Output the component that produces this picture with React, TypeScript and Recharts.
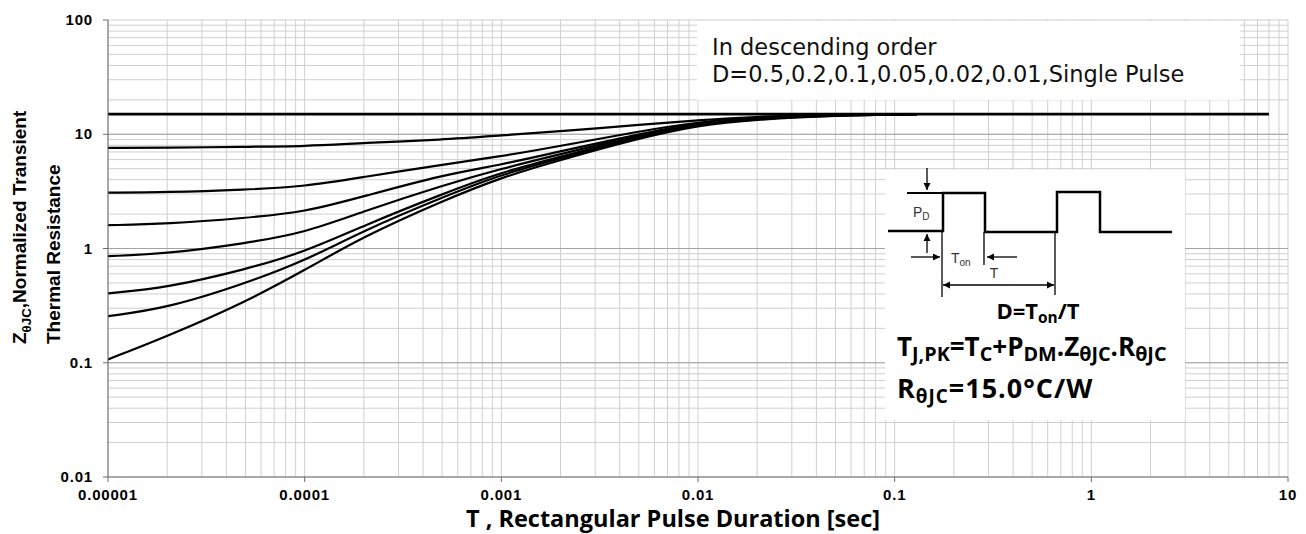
import React from 'react';
import { LineChart, Line, XAxis, YAxis, CartesianGrid } from 'recharts';

// pulse duration points [sec]
const pulseT = [1e-5, 2e-5, 5e-5, 1e-4, 2e-4, 5e-4, 1e-3, 2e-3, 5e-3, 1e-2, 2e-2, 5e-2, 0.13];

// Z(thetaJC), one list per duty cycle
const zD050 = [7.6, 7.62, 7.77, 7.85, 8.4, 8.95, 9.77, 10.6, 12.1, 13.3, 14.3, 14.9, 15.0];
const zD020 = [3.08, 3.1, 3.27, 3.48, 4.23, 5.42, 6.4, 7.9, 10.6, 12.8, 14.1, 14.85, 15.0];
const zD010 = [1.6, 1.64, 1.85, 2.08, 2.86, 4.4, 5.4, 7.1, 10.0, 12.7, 14.0, 14.8, 15.0];
const zD005 = [0.857, 0.9, 1.11, 1.37, 2.12, 3.55, 5.0, 6.7, 9.8, 12.5, 13.85, 14.75, 15.0];
const zD002 = [0.405, 0.454, 0.656, 0.93, 1.59, 3.0, 4.65, 6.35, 9.6, 12.3, 13.75, 14.7, 15.0];
const zD001 = [0.256, 0.3, 0.495, 0.78, 1.44, 2.8, 4.45, 6.15, 9.4, 12.2, 13.65, 14.65, 15.0];
const zSingle = [0.107, 0.17, 0.34, 0.646, 1.28, 2.6, 4.2, 5.96, 9.2, 12.0, 13.5, 14.6, 15.0];

// steady-state line
const flatT = [1e-5, 8];
const flatZ = [15, 15];

const xDecades = [1e-5, 1e-4, 1e-3, 1e-2, 1e-1, 1, 10];
const xLabels = ['0.00001', '0.0001', '0.001', '0.01', '0.1', '1', '10'];
const yDecades = [0.01, 0.1, 1, 10, 100];
const yLabels = ['0.01', '0.1', '1', '10', '100'];
const minorSteps = [1, 2, 3, 4, 5, 6, 7, 8, 9];

const gridTicks = (decades: number[]) =>
  decades.slice(0, -1).flatMap((d) => minorSteps.map((m) => d * m)).concat(decades[decades.length - 1]);

const xGridTicks = gridTicks(xDecades);
const yGridTicks = gridTicks(yDecades);

const toRows = (t: number[], z: number[]) => t.map((v, i) => ({ t: v, z: z[i] }));

const series = [zD050, zD020, zD010, zD005, zD002, zD001, zSingle];

const arial = '"Liberation Sans", Arial, sans-serif';
const boxFont = '"Open Sans", "Liberation Sans", sans-serif';
const tickFont = { fontFamily: arial, fontWeight: 700, fontSize: 15, letterSpacing: 0.8 };

const findDecade = (decades: number[], v: number) => decades.findIndex((d) => Math.abs(v / d - 1) < 1e-6);

const XTick = (props: any) => {
  const { x, y, payload } = props;
  const i = findDecade(xDecades, payload.value);
  if (i < 0) return <g />;
  return (
    <g>
      <line x1={x} x2={x} y1={y} y2={y + 5} stroke="#6b6b6b" />
      <text x={x} y={y + 23} textAnchor="middle" fill="#000" {...tickFont}>{xLabels[i]}</text>
    </g>
  );
};

const YTick = (props: any) => {
  const { x, y, payload } = props;
  const i = findDecade(yDecades, payload.value);
  if (i < 0) return <g />;
  return (
    <g>
      <line x1={x - 5} x2={x} y1={y} y2={y} stroke="#6b6b6b" />
      <text x={x - 15} y={y + 5} textAnchor="end" fill="#000" {...tickFont}>{yLabels[i]}</text>
    </g>
  );
};

// text with subscripts
const Rich = ({ x, y, size, parts, anchor = 'start', transform, family = boxFont, subScale = 0.7, subDrop = 0.2, spacing = 0 }: any) => {
  let off = 0;
  return (
    <text x={x} y={y} fontSize={size} fontWeight={700} fontFamily={family} textAnchor={anchor}
      transform={transform} letterSpacing={spacing} fill="#000">
      {parts.map((p: any, i: number) => {
        const target = p.sub ? size * subDrop : 0;
        const dy = target - off;
        off = target;
        return (
          <tspan key={i} dy={dy} fontSize={p.sub ? size * subScale : size}>{p.t}</tspan>
        );
      })}
    </text>
  );
};

const Overlay = () => (
  <svg width={1306} height={534} style={{ position: 'absolute', left: 0, top: 0, pointerEvents: 'none' }}>
    <defs>
      <marker id="ah" markerWidth="8" markerHeight="8" refX="7" refY="4" orient="auto" markerUnits="userSpaceOnUse">
        <path d="M0,0.5 L7,4 L0,7.5 z" fill="#000" />
      </marker>
    </defs>

    {/* axis titles */}
    <Rich x={-344} y={26} size={19} family={arial} subDrop={0.26} transform="rotate(-90)"
      parts={[{ t: 'Z' }, { t: 'θJC', sub: true }, { t: ',Normalized Transient' }]} />
    <Rich x={-344} y={60} size={19} family={arial} transform="rotate(-90)"
      parts={[{ t: 'Thermal Resistance' }]} />
    <text x={673} y={527} textAnchor="middle" fontFamily={boxFont} fontWeight={700} fontSize={23.5}>
      T , Rectangular Pulse Duration [sec]
    </text>

    {/* duty cycle note */}
    <rect x={697} y={21} width={543} height={79} fill="#fff" />
    <text x={712} y={55} fontFamily='"DejaVu Sans", sans-serif' fontSize={22.5} fill="#111">In  descending  order</text>
    <text x={712} y={82} fontFamily='"DejaVu Sans", sans-serif' fontSize={22.5} fill="#111">D=0.5,0.2,0.1,0.05,0.02,0.01,Single Pulse</text>

    {/* pulse diagram */}
    <rect x={885} y={170} width={300} height={250} fill="#fff" />
    <g stroke="#000" fill="none">
      <polyline strokeWidth={2.5}
        points="888,231 943,231 943,193 985,193 985,232 1057,232 1057,192 1100,192 1100,232 1172,232" />
      <line x1={907} y1={193} x2={943} y2={193} strokeWidth={2} />
      <line x1={927} y1={168} x2={927} y2={190} strokeWidth={1.3} markerEnd="url(#ah)" />
      <line x1={927} y1={253} x2={927} y2={234} strokeWidth={1.3} markerEnd="url(#ah)" />
      <line x1={942} y1={232} x2={942} y2={297} strokeWidth={1.3} />
      <line x1={984} y1={232} x2={984} y2={265} strokeWidth={1.3} />
      <line x1={1055} y1={232} x2={1055} y2={295} strokeWidth={1.3} />
      <line x1={911} y1={257} x2={940} y2={257} strokeWidth={1.3} markerEnd="url(#ah)" />
      <line x1={1017} y1={257} x2={987} y2={257} strokeWidth={1.3} markerEnd="url(#ah)" />
      <line x1={998} y1={285} x2={1054} y2={285} strokeWidth={1.3} markerEnd="url(#ah)" />
      <line x1={998} y1={285} x2={943} y2={285} strokeWidth={1.3} markerEnd="url(#ah)" />
    </g>
    <text x={913} y={217} fontFamily={arial} fontSize={14} fill="#333">
      P<tspan dy={3} fontSize={10}>D</tspan>
    </text>
    <text x={951} y={263} fontFamily={arial} fontSize={14} fill="#333">
      T<tspan dy={3} fontSize={10}>on</tspan>
    </text>
    <text x={994} y={278} textAnchor="middle" fontFamily={arial} fontSize={14} fill="#333">T</text>

    <Rich x={1038} y={319} size={22} anchor="middle"
      parts={[{ t: 'D=T' }, { t: 'on', sub: true }, { t: '/T' }]} />
    <Rich x={897} y={356} size={26} subScale={0.76}
      parts={[{ t: 'T' }, { t: 'J,PK', sub: true }, { t: '=T' }, { t: 'C', sub: true }, { t: '+P' }, { t: 'DM', sub: true },
        { t: '.Z' }, { t: 'θJC', sub: true }, { t: '.R' }, { t: 'θJC', sub: true }]} />
    <Rich x={897} y={398} size={27} subScale={0.7} spacing={1}
      parts={[{ t: 'R' }, { t: 'θJC', sub: true }, { t: '=15.0°C/W' }]} />
  </svg>
);

export default function App() {
  return (
    <div style={{ position: 'absolute', left: 0, top: 0, width: 1306, height: 534, background: '#fff' }}>
      <LineChart width={1306} height={534} margin={{ top: 20, right: 18, bottom: 0, left: 0 }}>
        <CartesianGrid stroke="#cfcfcf" />
        <CartesianGrid stroke="#a3a3a3" vertical={false} horizontalValues={[0.1, 1, 10]} />
        <XAxis
          type="number"
          dataKey="t"
          scale="log"
          domain={[1e-5, 10]}
          allowDataOverflow
          ticks={xGridTicks}
          interval={0}
          tick={<XTick />}
          tickLine={false}
          tickSize={0}
          tickMargin={0}
          height={57}
          axisLine={{ stroke: '#6b6b6b' }}
        />
        <YAxis
          type="number"
          dataKey="z"
          scale="log"
          domain={[0.01, 100]}
          allowDataOverflow
          ticks={yGridTicks}
          interval={0}
          tick={<YTick />}
          tickLine={false}
          tickSize={0}
          tickMargin={0}
          width={108}
          axisLine={{ stroke: '#6b6b6b' }}
        />
        <Line data={toRows(flatT, flatZ)} dataKey="z" type="linear" stroke="#000" strokeWidth={2.6} dot={false} isAnimationActive={false} />
        {series.map((z, i) => (
          <Line key={i} data={toRows(pulseT, z)} dataKey="z" type="basis" stroke="#000" strokeWidth={2.2} dot={false} isAnimationActive={false} />
        ))}
      </LineChart>
      <Overlay />
    </div>
  );
}
